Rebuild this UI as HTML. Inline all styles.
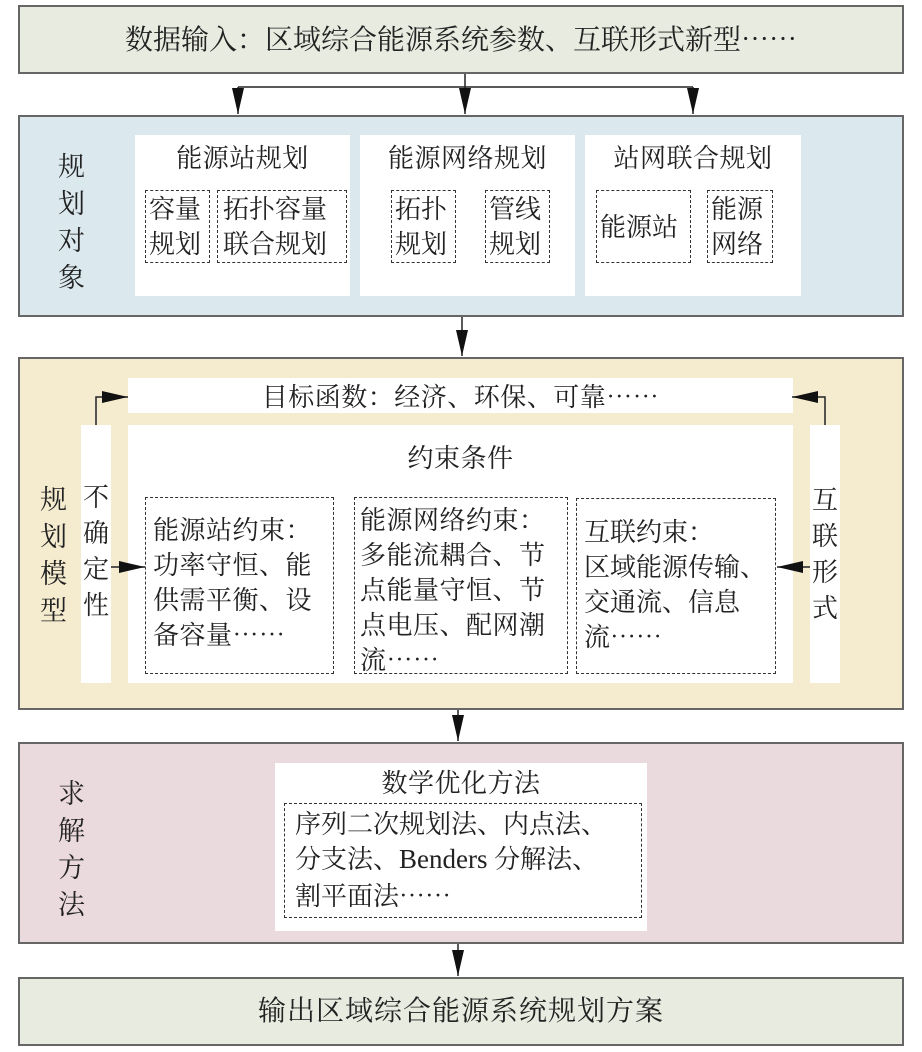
<!DOCTYPE html>
<html><head><meta charset="utf-8"><style>
*{margin:0;padding:0;box-sizing:border-box}
body{width:922px;height:1052px;background:#fff;position:relative;overflow:hidden;font-family:"Noto Serif CJK SC","Noto Sans CJK SC","Liberation Serif",serif;color:#222}
div{position:absolute}
.box{border:2px solid #666}
.w{background:#fff}
.d{border:1.5px dashed #333}
.t{font-size:26px;line-height:35px;white-space:nowrap;letter-spacing:0.5px}
.c{text-align:center}
.lat{font-family:"Liberation Serif",serif}
svg{position:absolute;left:0;top:0}
</style></head><body>
<div class="box" style="left:18px;top:5px;width:886px;height:69px;background:#e8ebe0"></div>
<div class="t c" style="left:18px;top:21px;width:886px;font-size:28px;letter-spacing:0">数据输入：区域综合能源系统参数、互联形式新型……</div>

<div class="box" style="left:18px;top:115px;width:886px;height:202px;background:#dbe9ef"></div>
<div class="t" style="left:58px;top:146px;font-size:27px;line-height:37px;width:30px;white-space:normal">规划对象</div>
<div class="w" style="left:135px;top:135px;width:215px;height:161px"></div>
<div class="w" style="left:360px;top:135px;width:215px;height:161px"></div>
<div class="w" style="left:585px;top:135px;width:216px;height:161px"></div>
<div class="t c" style="left:135px;top:139px;width:215px">能源站规划</div>
<div class="t c" style="left:360px;top:139px;width:215px">能源网络规划</div>
<div class="t c" style="left:585px;top:139px;width:216px">站网联合规划</div>
<div class="d" style="left:145px;top:190px;width:65px;height:73px"></div>
<div class="t" style="left:149px;top:190px;letter-spacing:0">容量<br>规划</div>
<div class="d" style="left:217px;top:190px;width:130px;height:73px"></div>
<div class="t" style="left:223px;top:190px;letter-spacing:0">拓扑容量<br>联合规划</div>
<div class="d" style="left:391px;top:190px;width:65px;height:73px"></div>
<div class="t" style="left:395px;top:190px;letter-spacing:0">拓扑<br>规划</div>
<div class="d" style="left:485px;top:190px;width:65px;height:73px"></div>
<div class="t" style="left:489px;top:190px;letter-spacing:0">管线<br>规划</div>
<div class="d" style="left:596px;top:190px;width:95px;height:73px"></div>
<div class="t" style="left:600px;top:208px;letter-spacing:0">能源站</div>
<div class="d" style="left:707px;top:190px;width:66px;height:73px"></div>
<div class="t" style="left:711px;top:190px;letter-spacing:0">能源<br>网络</div>

<div class="box" style="left:18px;top:357px;width:886px;height:353px;background:#f5ecd0"></div>
<div class="t" style="left:40px;top:479px;font-size:27px;line-height:37px;width:30px;white-space:normal">规划模型</div>
<div class="w" style="left:128px;top:378px;width:665px;height:35px"></div>
<div class="t c" style="left:128px;top:378px;width:665px">目标函数：经济、环保、可靠……</div>
<div class="w" style="left:81px;top:425px;width:30px;height:258px"></div>
<div class="t" style="left:83px;top:478px;line-height:36px;width:28px;white-space:normal">不确定性</div>
<div class="w" style="left:810px;top:425px;width:30px;height:258px"></div>
<div class="t" style="left:812px;top:481px;line-height:36px;width:28px;white-space:normal">互联形式</div>
<div class="w" style="left:128px;top:425px;width:665px;height:258px"></div>
<div class="t c" style="left:128px;top:439px;width:665px">约束条件</div>
<div class="d" style="left:145px;top:497px;width:189px;height:177px"></div>
<div class="t" style="left:153px;top:511px">能源站约束：<br>功率守恒、能<br>供需平衡、设<br>备容量……</div>
<div class="d" style="left:354px;top:497px;width:214px;height:177px"></div>
<div class="t" style="left:360px;top:501px">能源网络约束：<br>多能流耦合、节<br>点能量守恒、节<br>点电压、配网潮<br>流……</div>
<div class="d" style="left:576px;top:498px;width:200px;height:176px"></div>
<div class="t" style="left:584px;top:513px;letter-spacing:0">互联约束：<br>区域能源传输、<br>交通流、信息<br>流……</div>

<div class="box" style="left:18px;top:742px;width:886px;height:202px;background:#ebdadd"></div>
<div class="t" style="left:58px;top:773px;font-size:27px;line-height:37px;width:30px;white-space:normal">求解方法</div>
<div class="w" style="left:275px;top:763px;width:372px;height:168px"></div>
<div class="t c" style="left:275px;top:764px;width:372px">数学优化方法</div>
<div class="d" style="left:284px;top:803px;width:358px;height:115px"></div>
<div class="t" style="left:295px;top:805px;letter-spacing:0">序列二次规划法、内点法、<br>分支法、<span class="lat" style="font-size:27px">Benders</span> 分解法、<br>割平面法……</div>

<div class="box" style="left:18px;top:977px;width:886px;height:69px;background:#e8ebe0"></div>
<div class="t c" style="left:18px;top:992px;width:886px;font-size:28px;letter-spacing:1px">输出区域综合能源系统规划方案</div>

<svg width="922" height="1052" viewBox="0 0 922 1052">
<defs><marker id="b" markerWidth="26" markerHeight="12" refX="26" refY="6" orient="auto" markerUnits="userSpaceOnUse"><path d="M0,0L26,6L0,12z" fill="#111"/></marker></defs>
<g stroke="#222" stroke-width="1.5" fill="none">
<path d="M465 74V87M238 87H693"/>
<path d="M238 87V114" marker-end="url(#b)"/>
<path d="M465 87V114" marker-end="url(#b)"/>
<path d="M693 87V114" marker-end="url(#b)"/>
<path d="M462 317V356" marker-end="url(#b)"/>
<path d="M458 710V741" marker-end="url(#b)"/>
<path d="M458 944V976" marker-end="url(#b)"/>
<path d="M96 425V397H128" marker-end="url(#b)"/>
<path d="M825 425V397H792" marker-end="url(#b)"/>
<path d="M111 567H145" marker-end="url(#b)"/>
<path d="M810 567H777" marker-end="url(#b)"/>
</g></svg>
</body></html>
